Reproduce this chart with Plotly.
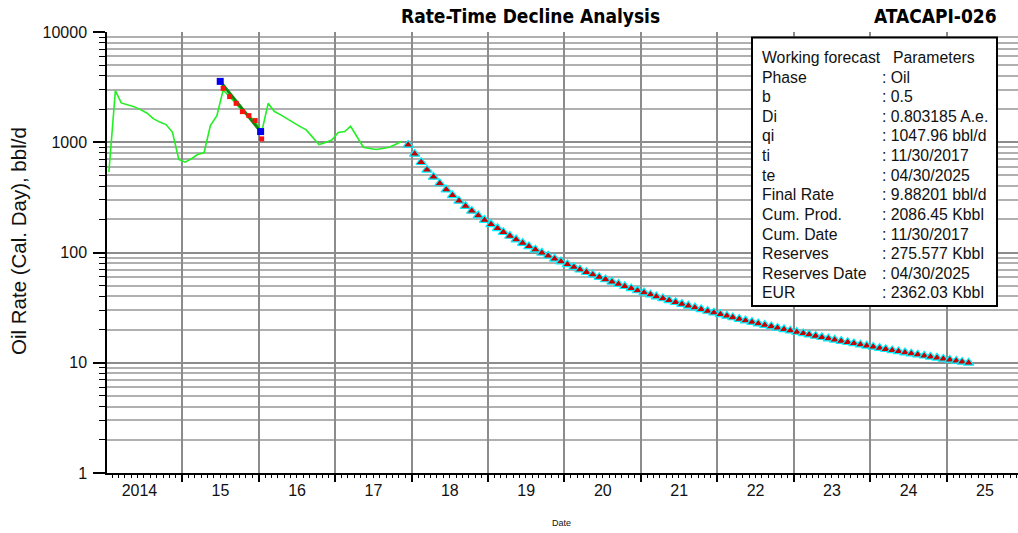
import pandas as pd
import plotly.graph_objects as go

# ---------------- data ----------------
hist_start = "2014-01-01"
hist_rate = [535, 2937, 2273, 2180, 2104, 1976, 1845, 1638, 1523, 1446, 1232, 697,
             659, 712, 774, 807, 1416, 1744, 2980, 2592, 2240, 1896, 1744, 1555,
             1232, 2254, 1908, 1770, 1628, 1498, 1393, 1295, 1115, 953, 994, 1047,
             1224, 1250, 1396, 1126, 901, 877, 859, 877, 899, 953, 1021]

sel_start = "2015-07-01"
sel_rate = [3081, 2592, 2254, 1896, 1744, 1572, 1073]

fit_dates = ["2015-07-01", "2016-01-10"]
fit_rate = [3565, 1250]

fc_start = "2017-12-01"
fc_rate = [946.5, 783.2, 658.8, 561.8, 484.8, 422.6, 371.6, 329.3, 293.9, 263.9,
           238.2, 216.2, 197.0, 180.3, 165.6, 152.7, 141.2, 130.95, 121.8, 113.6,
           106.1, 99.4, 93.3, 87.7, 82.7, 78.0, 73.8, 69.8, 66.2, 62.9,
           59.8, 56.9, 54.2, 51.7, 49.4, 47.2, 45.2, 43.3, 41.5, 39.85,
           38.27, 36.79, 35.39, 34.07, 32.82, 31.64, 30.52, 29.46, 28.46, 27.50,
           26.59, 25.73, 24.91, 24.12, 23.38, 22.66, 21.98, 21.33, 20.71, 20.11,
           19.54, 19.00, 18.47, 17.97, 17.49, 17.03, 16.58, 16.15, 15.74, 15.35,
           14.97, 14.60, 14.25, 13.91, 13.58, 13.26, 12.95, 12.66, 12.37, 12.10,
           11.83, 11.57, 11.32, 11.08, 10.84, 10.62, 10.40, 10.18, 9.98]

year_bounds = [f"{y}-01-01" for y in range(2015, 2026)]
year_label_pos = ["2014-06-10"] + [f"{y}-07-02" for y in range(2015, 2026)]
year_labels = ["2014", "15", "16", "17", "18", "19", "20", "21", "22", "23", "24", "25"]

y_major = [1, 10, 100, 1000, 10000]
y_major_text = ["1", "10", "100", "1000", "10000"]
y_minor = [m * d for d in [1, 10, 100, 1000] for m in range(2, 10)]

param_labels = ["Working forecast", "Phase", "b", "Di", "qi", "ti", "te", "Final Rate",
                "Cum. Prod.", "Cum. Date", "Reserves", "Reserves Date", "EUR"]
param_values = ["Parameters", ": Oil", ": 0.5", ": 0.803185 A.e.", ": 1047.96 bbl/d",
                ": 11/30/2017", ": 04/30/2025", ": 9.88201 bbl/d", ": 2086.45 Kbbl",
                ": 11/30/2017", ": 275.577 Kbbl", ": 04/30/2025", ": 2362.03 Kbbl"]

x_range = ["2014-01-06", "2025-12-07"]

# ---------------- figure ----------------
def mid_month(start, n):
    return pd.date_range(start, periods=n, freq="MS") + pd.Timedelta(days=14)

FONT = "Liberation Sans, Arial, sans-serif"
NARROW = "DejaVu Sans Condensed, Liberation Sans Narrow, Arial Narrow, Liberation Sans, Arial, sans-serif"

fig = go.Figure()
fig.add_trace(go.Scatter(x=mid_month(hist_start, len(hist_rate)), y=hist_rate, mode="lines",
                         line=dict(color="#22f022", width=1.6), showlegend=False))
fig.add_trace(go.Scatter(x=fit_dates, y=fit_rate, mode="lines",
                         line=dict(color="#0a8a0a", width=3), showlegend=False))
fig.add_trace(go.Scatter(x=mid_month(sel_start, len(sel_rate)), y=sel_rate, mode="markers",
                         marker=dict(symbol="square", size=5, color="#ff1010"), showlegend=False))
fig.add_trace(go.Scatter(x=fit_dates, y=fit_rate, mode="markers",
                         marker=dict(symbol="square", size=7, color="#0000ee"), showlegend=False))
fig.add_trace(go.Scatter(x=mid_month(fc_start, len(fc_rate)), y=fc_rate, mode="markers",
                         marker=dict(symbol="triangle-up", size=9, color="#c80000",
                                     line=dict(color="#00f0ff", width=1.2)),
                         showlegend=False))

fig.update_layout(
    width=1018, height=533,
    margin=dict(l=107, r=0, t=31.5, b=59.5),
    paper_bgcolor="white", plot_bgcolor="white",
    font=dict(family=FONT, color="#111"),
    xaxis=dict(type="date", range=x_range, tickmode="array", tickvals=year_bounds,
               showticklabels=False, ticks="outside", ticklen=7, tickwidth=1.5, tickcolor="black",
               showgrid=True, gridcolor="#8c8c8c", gridwidth=2,
               showline=True, linecolor="black", linewidth=1.5, zeroline=False,
               minor=dict(tickmode="linear", tick0="2014-01-01", dtick="M1", ticks="outside",
                          ticklen=3, tickwidth=1, tickcolor="black", showgrid=False)),
    xaxis2=dict(type="date", range=x_range, overlaying="x", anchor="y", side="bottom",
                tickmode="array", tickvals=year_label_pos, ticktext=year_labels,
                ticks="", showgrid=False, showline=False, zeroline=False,
                ticklabelstandoff=6, tickfont=dict(size=16, color="#111")),
    yaxis=dict(type="log", range=[0, 4], tickmode="array", tickvals=y_major, ticktext=y_major_text,
               ticks="outside", ticklen=12, tickwidth=1.5, tickcolor="black",
               showgrid=True, gridcolor="#8c8c8c", gridwidth=2,
               showline=True, linecolor="black", linewidth=1.5, zeroline=False,
               tickfont=dict(size=16, color="#111"), ticklabelstandoff=3,
               minor=dict(tickmode="array", tickvals=y_minor, ticks="outside", ticklen=6,
                          tickwidth=1, tickcolor="black", showgrid=True,
                          gridcolor="#b0b0b0", gridwidth=2)),
)

# invisible trace to activate xaxis2
fig.add_trace(go.Scatter(x=[x_range[0]], y=[1], xaxis="x2", mode="markers",
                         marker=dict(opacity=0), hoverinfo="skip", showlegend=False))

def px_x(px):
    return (px - 107) / 911.0

def px_y(py):
    return (473.5 - py) / 442.0

fig.add_annotation(text="<b>Rate-Time Decline Analysis</b>", x=px_x(530), y=px_y(15),
                   xref="paper", yref="paper", showarrow=False, xanchor="center", yanchor="middle",
                   font=dict(family=NARROW, size=19, color="black"))
fig.add_annotation(text="<b>ATACAPI-026</b>", x=px_x(935), y=px_y(15),
                   xref="paper", yref="paper", showarrow=False, xanchor="center", yanchor="middle",
                   font=dict(family=NARROW, size=19, color="black"))
fig.add_annotation(text="Oil Rate (Cal. Day), bbl/d", x=px_x(18), y=px_y(241),
                   xref="paper", yref="paper", showarrow=False, textangle=-90,
                   xanchor="center", yanchor="middle",
                   font=dict(size=20.5, color="#111"))
fig.add_annotation(text="Date", x=px_x(561), y=px_y(524),
                   xref="paper", yref="paper", showarrow=False, xanchor="center", yanchor="middle",
                   font=dict(size=9, color="#111"))

fig.add_shape(type="rect", xref="paper", yref="paper", layer="above",
              x0=px_x(752), x1=px_x(997), y0=px_y(306), y1=px_y(37),
              line=dict(color="black", width=2), fillcolor="white")

for i, (lab, val) in enumerate(zip(param_labels, param_values)):
    yy = px_y(57 + i * 19.67)
    fig.add_annotation(text=lab, x=px_x(760), y=yy, xref="paper", yref="paper",
                       xanchor="left", yanchor="middle", showarrow=False,
                       font=dict(size=15.8, color="#111"))
    fig.add_annotation(text=val, x=px_x(891 if i == 0 else 880), y=yy, xref="paper", yref="paper",
                       xanchor="left", yanchor="middle", showarrow=False,
                       font=dict(size=15.8, color="#111"))

fig.write_html("out.html")
